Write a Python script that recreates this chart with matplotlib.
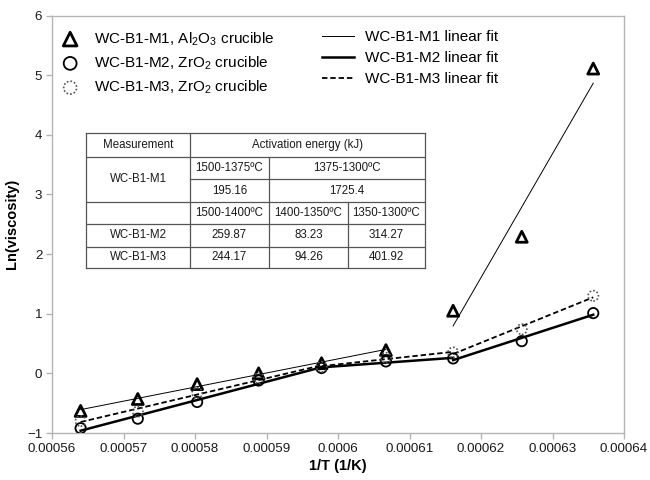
"""Ln(viscosity) vs 1/T for WC-B1 slag, with piecewise Arrhenius fits."""

import numpy as np
import matplotlib
matplotlib.use("Agg")
import matplotlib.pyplot as plt
from matplotlib.lines import Line2D

plt.rcParams["font.family"] = ["Liberation Sans", "DejaVu Sans"]
plt.rcParams["mathtext.default"] = "regular"

# ---- data ------------------------------------------------------------------
inv_T = [0.0005640, 0.0005720, 0.0005803, 0.0005889, 0.0005977,
         0.0006067, 0.0006161, 0.0006257, 0.0006357]
ln_visc_m1 = [-0.63, -0.43, -0.18, 0.00, 0.17, 0.39, 1.05, 2.29, 5.11]
ln_visc_m2 = [-0.92, -0.76, -0.48, -0.12, 0.09, 0.20, 0.25, 0.54, 1.01]
ln_visc_m3 = [-0.80, -0.64, -0.33, -0.08, 0.11, 0.26, 0.35, 0.74, 1.30]

# index ranges of points used for each linear-fit segment
segments_m1 = [(0, 6), (6, 9)]
segments_m23 = [(0, 5), (4, 7), (6, 9)]

data_labels = ["WC-B1-M1, Al$_2$O$_3$ crucible",
               "WC-B1-M2, ZrO$_2$ crucible",
               "WC-B1-M3, ZrO$_2$ crucible"]
fit_labels = ["WC-B1-M1 linear fit", "WC-B1-M2 linear fit", "WC-B1-M3 linear fit"]

xticks = [0.00056, 0.00057, 0.00058, 0.00059, 0.00060,
          0.00061, 0.00062, 0.00063, 0.00064]

# inset table: (text, row, col, rowspan, colspan)
table_cells = [
    ("Measurement", 0, 0, 1, 1),
    ("Activation energy (kJ)", 0, 1, 1, 3),
    ("WC-B1-M1", 1, 0, 2, 1),
    ("1500-1375ºC", 1, 1, 1, 1),
    ("1375-1300ºC", 1, 2, 1, 2),
    ("195.16", 2, 1, 1, 1),
    ("1725.4", 2, 2, 1, 2),
    ("1500-1400ºC", 3, 1, 1, 1),
    ("1400-1350ºC", 3, 2, 1, 1),
    ("1350-1300ºC", 3, 3, 1, 1),
    ("WC-B1-M2", 4, 0, 1, 1),
    ("259.87", 4, 1, 1, 1),
    ("83.23", 4, 2, 1, 1),
    ("314.27", 4, 3, 1, 1),
    ("WC-B1-M3", 5, 0, 1, 1),
    ("244.17", 5, 1, 1, 1),
    ("94.26", 5, 2, 1, 1),
    ("401.92", 5, 3, 1, 1),
]

# ---- figure -----------------------------------------------------------------
W, H = 650, 480
fig = plt.figure(figsize=(W / 100, H / 100), dpi=100)
ax = fig.add_axes([52 / W, 47 / H, 572 / W, 417.5 / H])

x = np.asarray(inv_T)


def draw_fits(y, segs, **kw):
    y = np.asarray(y)
    for a, b in segs:
        k, c = np.polyfit(x[a:b], y[a:b], 1)
        xs = np.array([x[a], x[b - 1]])
        ax.plot(xs, k * xs + c, color="black", zorder=2, **kw)


draw_fits(ln_visc_m1, segments_m1, lw=0.7)
draw_fits(ln_visc_m2, segments_m23, lw=1.8)
draw_fits(ln_visc_m3, segments_m23, lw=1.3, ls=(0, (3, 1.6)))

s1 = ax.scatter(x, ln_visc_m1, marker="^", s=62, facecolors="none",
                edgecolors="black", linewidths=2.0, zorder=3)
s2 = ax.scatter(x, ln_visc_m2, marker="o", s=55, facecolors="none",
                edgecolors="black", linewidths=1.3, zorder=3)
s3 = ax.scatter(x, ln_visc_m3, marker="o", s=55, facecolors="none",
                edgecolors="#555555", linewidths=1.2, linestyles=(0, (1, 1.2)),
                zorder=3)

ax.set_xlim(0.00056, 0.00064)
ax.set_ylim(-1, 6)
ax.set_xticks(xticks)
ax.set_xticklabels([f"{v:.5f}".rstrip("0") for v in xticks])
ax.set_yticks(range(-1, 7))
for sp in ax.spines.values():
    sp.set_color("#b5b5b5")
    sp.set_linewidth(1.0)
ax.tick_params(direction="out", length=4, width=1, color="#b5b5b5",
               labelsize=9.6, labelcolor="#1a1a1a", pad=3)
ax.set_xlabel("1/T (1/K)", fontsize=10.5, fontweight="bold", labelpad=3)
ax.set_ylabel("Ln(viscosity)", fontsize=10.5, fontweight="bold", labelpad=6)

# legends: data markers (left column) and fit lines (right column)
leg1 = fig.legend([s1, s2, s3], data_labels, loc="upper left",
                  bbox_to_anchor=(48 / W, 1 - 24 / H), borderaxespad=0,
                  frameon=False, fontsize=11, handlelength=2.1,
                  handletextpad=0.5, labelspacing=0.45, markerscale=1.25,
                  scatterpoints=1)
fit_handles = [Line2D([], [], color="black", lw=0.7),
               Line2D([], [], color="black", lw=1.8),
               Line2D([], [], color="black", lw=1.3, ls=(0, (3, 1.6)))]
leg2 = fig.legend(fit_handles, fit_labels, loc="upper left",
                  bbox_to_anchor=(316 / W, 1 - 24 / H), borderaxespad=0,
                  frameon=False, fontsize=11, handlelength=2.1,
                  handletextpad=0.7, labelspacing=0.45)

# ---- inset table ------------------------------------------------------------
col_edges = [86, 190, 269, 348, 425]
row_edges = [133, 157, 179, 202, 224, 247, 268]
tab = fig.add_axes([col_edges[0] / W, 1 - row_edges[-1] / H,
                    (col_edges[-1] - col_edges[0]) / W,
                    (row_edges[-1] - row_edges[0]) / H])
tab.set_xlim(col_edges[0], col_edges[-1])
tab.set_ylim(row_edges[-1], row_edges[0])
tab.set_xticks([]); tab.set_yticks([])
for sp in tab.spines.values():
    sp.set_color("#555555"); sp.set_linewidth(0.9)
tab.set_zorder(5)

lc = dict(color="#555555", lw=0.9)
# horizontal rules
tab.plot([col_edges[0], col_edges[-1]], [row_edges[1]] * 2, **lc)
tab.plot([col_edges[1], col_edges[-1]], [row_edges[2]] * 2, **lc)
for r in row_edges[3:6]:
    tab.plot([col_edges[0], col_edges[-1]], [r, r], **lc)
# vertical rules
tab.plot([col_edges[1]] * 2, [row_edges[0], row_edges[-1]], **lc)
tab.plot([col_edges[2]] * 2, [row_edges[1], row_edges[-1]], **lc)
tab.plot([col_edges[3]] * 2, [row_edges[3], row_edges[-1]], **lc)

for text, r, c, rs, cs in table_cells:
    cx = (col_edges[c] + col_edges[c + cs]) / 2
    cy = (row_edges[r] + row_edges[r + rs]) / 2
    tab.text(cx, cy, text, ha="center", va="center", fontsize=8.3,
             color="#1a1a1a")

fig.savefig("out.png", dpi=100)
